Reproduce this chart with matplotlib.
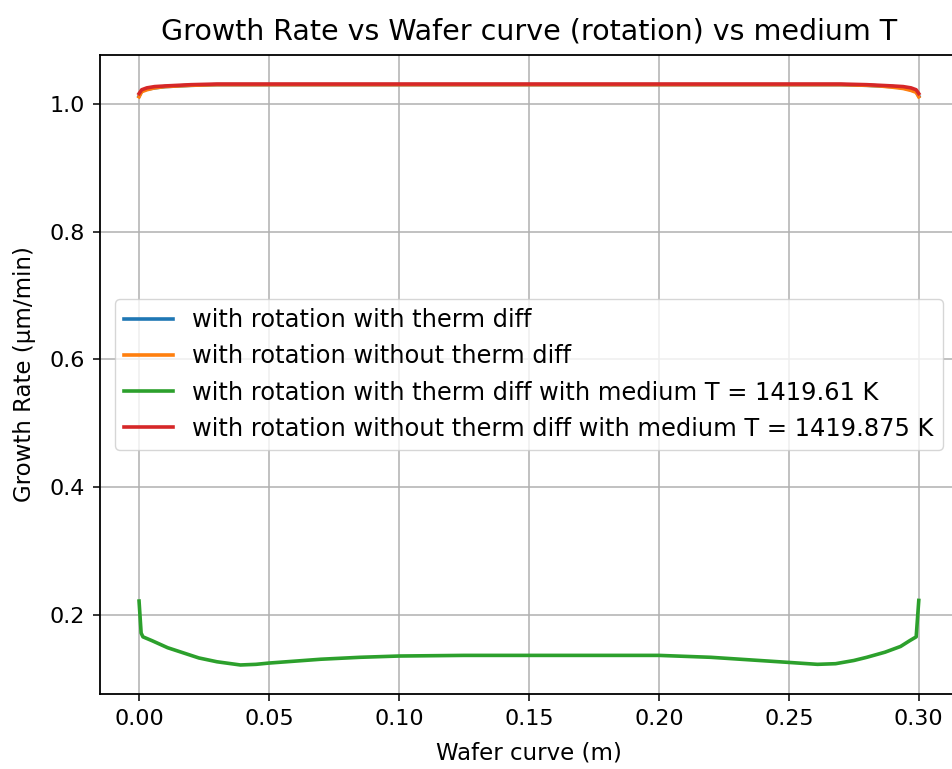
import matplotlib
matplotlib.use("Agg")
import matplotlib.pyplot as plt

# wafer position (m) and growth rate (um/min) for each run
x_top = [0.0, 0.001, 0.003, 0.006, 0.010, 0.015, 0.020, 0.030, 0.050, 0.100, 0.150,
         0.200, 0.250, 0.270, 0.280, 0.285, 0.290, 0.294, 0.297, 0.299, 0.300]
rot_therm = [1.012, 1.020, 1.023, 1.025, 1.027, 1.028, 1.029, 1.030, 1.030, 1.030, 1.030,
             1.030, 1.030, 1.030, 1.029, 1.028, 1.027, 1.025, 1.022, 1.019, 1.012]
rot_notherm = [1.011, 1.019, 1.022, 1.025, 1.027, 1.028, 1.029, 1.030, 1.030, 1.030, 1.030,
               1.030, 1.030, 1.030, 1.029, 1.028, 1.026, 1.024, 1.021, 1.018, 1.011]
rot_notherm_T = [1.016, 1.022, 1.025, 1.027, 1.028, 1.029, 1.030, 1.031, 1.031, 1.031, 1.031,
                 1.031, 1.031, 1.031, 1.030, 1.029, 1.028, 1.027, 1.025, 1.022, 1.016]

x_low = [0.0, 0.0008, 0.0015, 0.005, 0.011, 0.017, 0.023, 0.030, 0.039, 0.045, 0.050,
         0.060, 0.070, 0.085, 0.100, 0.125, 0.150, 0.175, 0.200, 0.220, 0.235,
         0.250, 0.261, 0.268, 0.275, 0.280, 0.287, 0.293, 0.2965, 0.299, 0.300]
rot_therm_T = [0.222, 0.172, 0.166, 0.160, 0.149, 0.141, 0.133, 0.127, 0.122, 0.123, 0.125,
               0.128, 0.131, 0.134, 0.136, 0.137, 0.137, 0.137, 0.137, 0.134, 0.130,
               0.126, 0.123, 0.124, 0.129, 0.134, 0.142, 0.151, 0.160, 0.166, 0.223]

labels = ["with rotation with therm diff",
          "with rotation without therm diff",
          "with rotation with therm diff with medium T = 1419.61 K",
          "with rotation without therm diff with medium T = 1419.875 K"]

fig = plt.figure(figsize=(9.53, 7.69), dpi=100)
ax = fig.add_axes([0.105, 0.0975, 0.9, 0.831])

lw = 2.6
ax.plot(x_top, rot_therm, label=labels[0], lw=lw)
ax.plot(x_top, rot_notherm, label=labels[1], lw=lw)
ax.plot(x_low, rot_therm_T, label=labels[2], lw=lw)
ax.plot(x_top, rot_notherm_T, label=labels[3], lw=lw)

ax.set_title("Growth Rate vs Wafer curve (rotation) vs medium T", fontsize=20.5, pad=11)
ax.set_xlabel("Wafer curve (m)", fontsize=16.5, labelpad=9)
ax.set_ylabel("Growth Rate (\u03bcm/min)", fontsize=16.5, labelpad=10)
ax.tick_params(labelsize=16, width=1.1, length=5, pad=6)
for s in ax.spines.values():
    s.set_linewidth(1.3)
ax.grid(True, lw=1.1)
ax.legend(loc="center", fontsize=17.4, handlelength=2.0)

fig.savefig("out.png", dpi=100)
